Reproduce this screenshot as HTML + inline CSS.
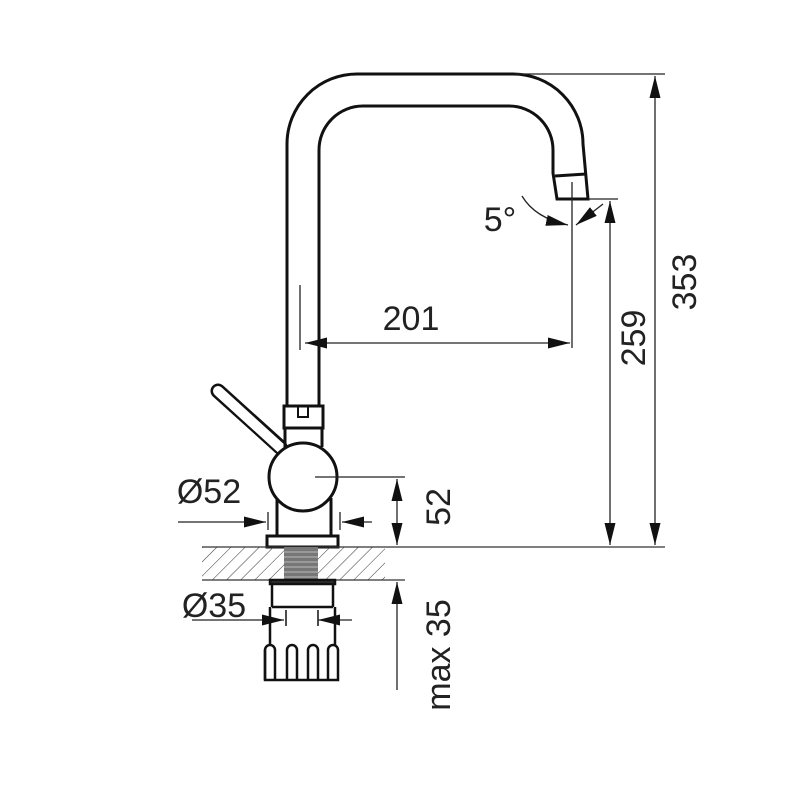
<!DOCTYPE html>
<html><head><meta charset="utf-8"><style>body{margin:0;background:#fff}svg{display:block}</style></head><body>
<svg width="800" height="800" viewBox="0 0 800 800" xmlns="http://www.w3.org/2000/svg" font-family="Liberation Sans, sans-serif">
<defs>
<pattern id="h" width="10" height="10" patternUnits="userSpaceOnUse" patternTransform="rotate(45)"><line x1="0" y1="0" x2="0" y2="10" stroke="#333" stroke-width="1"/></pattern>
<marker id="a" viewBox="0 0 10 10" refX="10" refY="5" markerWidth="22" markerHeight="11" markerUnits="userSpaceOnUse" preserveAspectRatio="none" orient="auto-start-reverse"><path d="M0,0L10,5L0,10z" fill="#111"/></marker>
</defs>
<!-- lever -->
<line x1="218" y1="391" x2="280" y2="447" stroke="#111" stroke-width="15" stroke-linecap="round"/>
<line x1="218" y1="391" x2="285" y2="452" stroke="#fff" stroke-width="10" stroke-linecap="round"/>
<g fill="none" stroke="#111" stroke-width="3">
<!-- spout -->
<path d="M287,405 V144 A70,70 0 0 1 357,74 H513 A70,70 0 0 1 583,144 L588,199 H557 L553,173 V150 A44,44 0 0 0 509,106 H363 A44,44 0 0 0 319,150 V405"/>
<line x1="555" y1="176" x2="586" y2="174"/>
<!-- collar -->
<rect x="284" y="406" width="39" height="22" fill="#fff"/>
<rect x="298" y="406" width="10" height="11" stroke-width="2"/>
<path d="M285,428 V447 M322,428 V447"/>
<circle cx="303" cy="477" r="34" fill="#fff"/>
<path d="M277,498 V536 M331,498 V536"/>
<rect x="267" y="536" width="71" height="11"/>
</g>
<!-- countertop -->
<rect x="202" y="547" width="183" height="33" fill="url(#h)"/>
<line x1="202" y1="547" x2="665" y2="547" stroke="#333" stroke-width="1.3"/>
<line x1="202" y1="580" x2="405" y2="580" stroke="#333" stroke-width="1.3"/>
<rect x="284" y="547" width="34" height="33" fill="#777"/>
<g stroke="#bbb" stroke-width="1"><path d="M284,552H318M284,557H318M284,562H318M284,567H318M284,572H318M284,577H318"/></g>
<g fill="none" stroke="#111" stroke-width="2.5">
<rect x="270" y="580" width="65" height="4" fill="#333"/>
<path d="M272,584 V607 M333,584 V607"/>
<line x1="272" y1="607" x2="333" y2="607"/>
<path d="M270,607 V645 M335,607 V645"/>
<path d="M265,650 V680 H338 V650"/>
<path d="M265,680 V650 A5,5 0 0 1 275,650 V680 M287,680 V650 A5,5 0 0 1 297,650 V680 M308,680 V650 A5,5 0 0 1 318,650 V680 M328,680 V650 A5,5 0 0 1 338,650"/>
<path d="M286,610 V626 M318,610 V626" stroke-width="1.5"/>
</g>
<!-- dimension lines -->
<g stroke="#222" stroke-width="1.3" fill="none">
<line x1="515" y1="74" x2="665" y2="74"/>
<line x1="588" y1="199" x2="618" y2="199"/>
<line x1="655" y1="76" x2="655" y2="545" marker-start="url(#a)" marker-end="url(#a)"/>
<line x1="610" y1="201" x2="610" y2="545" marker-start="url(#a)" marker-end="url(#a)"/>
<line x1="572" y1="182" x2="572" y2="348"/>
<line x1="305" y1="343" x2="570" y2="343" marker-start="url(#a)" marker-end="url(#a)"/>
<line x1="300" y1="285" x2="300" y2="350"/>
<path d="M522,196 Q535,218 568,225" marker-end="url(#a)"/>
<line x1="603" y1="204" x2="576" y2="225" marker-end="url(#a)"/>
<line x1="315" y1="477" x2="405" y2="477"/>
<line x1="397" y1="479" x2="397" y2="545" marker-start="url(#a)" marker-end="url(#a)"/>
<line x1="397" y1="582" x2="397" y2="690" marker-start="url(#a)"/>
<line x1="178" y1="522" x2="266" y2="522" marker-end="url(#a)"/>
<line x1="372" y1="522" x2="342" y2="522" marker-end="url(#a)"/>
<line x1="268" y1="512" x2="268" y2="530"/>
<line x1="340" y1="512" x2="340" y2="530"/>
<line x1="192" y1="620" x2="284" y2="620" marker-end="url(#a)"/>
<line x1="352" y1="620" x2="318" y2="620" marker-end="url(#a)"/>
</g>
<g fill="#222" font-size="34">
<text x="411" y="330" text-anchor="middle">201</text>
<text x="500" y="231" text-anchor="middle">5°</text>
<text x="209" y="503" text-anchor="middle">Ø52</text>
<text x="214" y="617" text-anchor="middle">Ø35</text>
<text transform="translate(696,282) rotate(-90)" text-anchor="middle">353</text>
<text transform="translate(645,338) rotate(-90)" text-anchor="middle">259</text>
<text transform="translate(450,507) rotate(-90)" text-anchor="middle">52</text>
<text transform="translate(450,655) rotate(-90)" text-anchor="middle">max 35</text>
</g>
</svg>
</body></html>
